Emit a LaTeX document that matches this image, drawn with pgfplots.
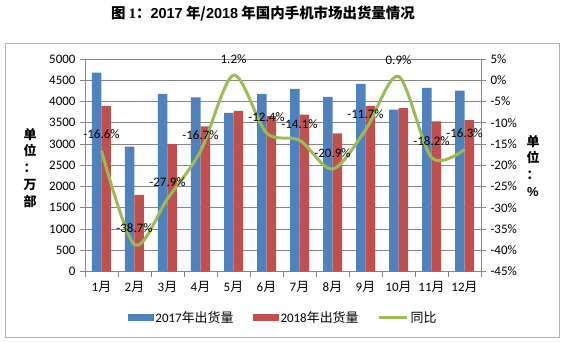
\documentclass[border=0pt]{standalone}
\usepackage{fontspec}
\setmainfont{Carlito}
\newfontfamily\cjk{Noto Sans CJK SC}
\newfontfamily\lsans{Liberation Sans}
\usepackage{pgfplots}
\pgfplotsset{compat=1.18}
\definecolor{cblue}{RGB}{79,129,189}
\definecolor{cred}{RGB}{192,80,77}
\definecolor{cgreen}{RGB}{155,187,89}
\definecolor{cgrid}{RGB}{134,134,134}
\newcommand{\yue}{{\cjk 月}}
\begin{document}
\fontsize{13}{15}\selectfont
\begin{tikzpicture}
\useasboundingbox (-85bp,-70.5bp) rectangle (478bp,271.5bp);
\draw[color=black!30, line width=1bp] (-79bp,-65.5bp) rectangle (474bp,227.5bp);
\node[font=\fontsize{14.5}{16}\selectfont\cjk\bfseries] at (178bp,257.5bp) {图 {\fontspec{Liberation Serif}\bfseries 1}：{\lsans\bfseries 2017} 年/{\lsans\bfseries 2018} 年国内手机市场出货量情况};
\node[font=\fontsize{13}{17}\selectfont\cjk\bfseries, align=center] at (-55bp,103.5bp) {单\\位\\：\\万\\部};
\node[font=\fontsize{13}{17}\selectfont\cjk\bfseries, align=center] at (448bp,105.5bp) {单\\位\\：\\{\lsans\bfseries\%}};
\begin{axis}[
  scale only axis, width=396bp, height=212.5bp,
  xmin=0.5, xmax=12.5, ymin=0, ymax=5000,
  axis x line*=bottom, axis y line*=left,
  x axis line style={-, draw=cgrid}, y axis line style={-, draw=cgrid},
  ytick={0,500,...,5000},
  ymajorgrids, grid style={draw=cgrid, line width=0.6bp},
  xtick={1,...,12},
  xticklabels={1\yue,2\yue,3\yue,4\yue,5\yue,6\yue,7\yue,8\yue,9\yue,10\yue,11\yue,12\yue},
  major x tick style={draw=none},
  minor xtick={0.5,1.5,...,12.5},
  tick align=outside, major tick length=5bp, minor tick length=5bp,
  every tick/.style={draw=cgrid, line width=0.6bp},
  /pgf/number format/assume math mode=true,
  /pgf/number format/set thousands separator={},
  legend columns=3,
  legend style={at={(0.5,-0.2188)}, anchor=center, draw=none, fill=none,
    /tikz/every even column/.append style={column sep=17bp}},
]
\addplot[ybar, bar width=9.5bp, bar shift=-4.75bp, fill=cblue, draw=none,
  legend image code/.code={\fill[cblue] (0bp,-3.5bp) rectangle (26bp,3.5bp);}]
  coordinates {(1,4680) (2,2940) (3,4180) (4,4100) (5,3730) (6,4180) (7,4300) (8,4110) (9,4412) (10,3808) (11,4318) (12,4255)};
\addlegendentry{2017{\cjk 年出货量}}
\addplot[ybar, bar width=9.5bp, bar shift=4.75bp, fill=cred, draw=none,
  legend image code/.code={\fill[cred] (0bp,-3.5bp) rectangle (26bp,3.5bp);}]
  coordinates {(1,3900) (2,1803) (3,3005) (4,3412) (5,3777) (6,3655) (7,3692) (8,3251) (9,3896) (10,3845) (11,3530) (12,3560)};
\addlegendentry{2018{\cjk 年出货量}}
\addlegendimage{legend image code/.code={\draw[cgreen, line width=3bp] (0bp,0bp) -- (28bp,0bp);}}
\addlegendentry{{\cjk 同比}}
\end{axis}
\begin{axis}[
  scale only axis, width=396bp, height=212.5bp,
  xmin=0.5, xmax=12.5, ymin=-45, ymax=5,
  axis x line=none, axis y line*=right,
  y axis line style={-, draw=cgrid},
  ytick={-45,-40,...,5},
  yticklabels={-45\%,-40\%,-35\%,-30\%,-25\%,-20\%,-15\%,-10\%,-5\%,0\%,5\%},
  tick align=outside, major tick length=5bp,
  every tick/.style={draw=cgrid, line width=0.6bp},
]
\addplot[cgreen, line width=3bp, smooth, nodes near coords, point meta=explicit symbolic,
  every node near coord/.append style={black, yshift=6bp}]
  coordinates {(1,-16.6) [-16.6\%] (2,-38.7) [-38.7\%] (3,-27.9) [-27.9\%] (4,-16.7) [-16.7\%]
   (5,1.2) [1.2\%] (6,-12.4) [-12.4\%] (7,-14.1) [-14.1\%] (8,-20.9) [-20.9\%]
   (9,-11.7) [-11.7\%] (10,0.9) [0.9\%] (11,-18.2) [-18.2\%] (12,-16.3) [-16.3\%]};
\end{axis}
\end{tikzpicture}
\end{document}
